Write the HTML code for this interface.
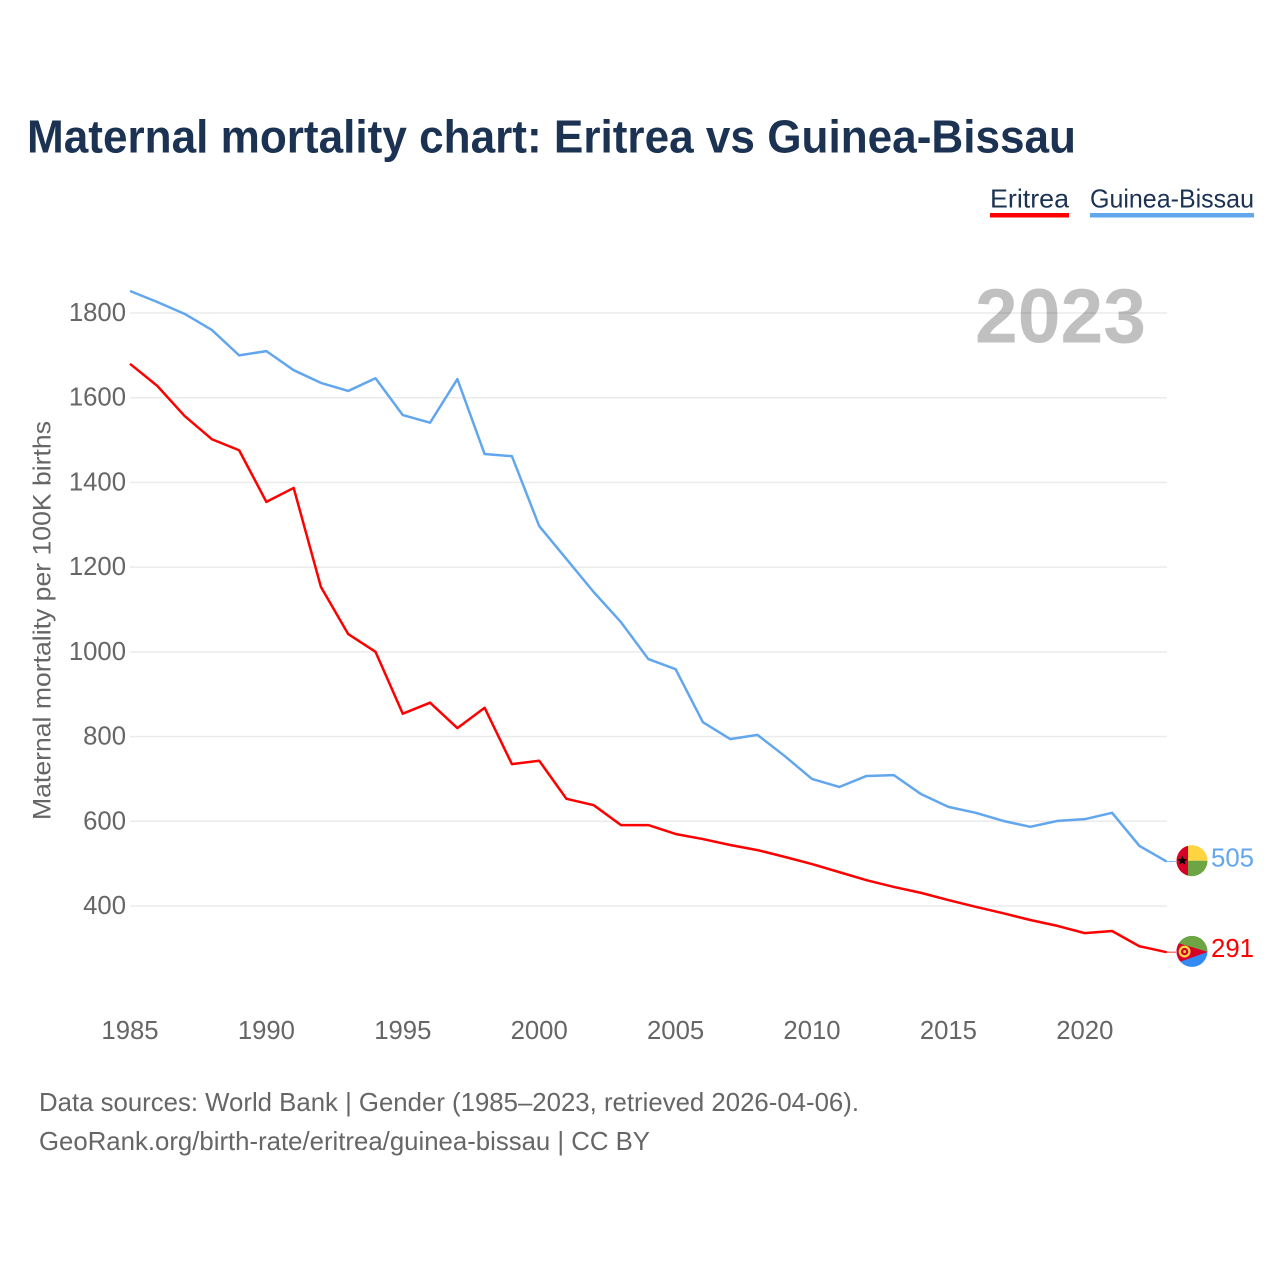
<!DOCTYPE html>
<html lang="en">
<head>
<meta charset="utf-8">
<title>Maternal mortality chart: Eritrea vs Guinea-Bissau</title>
<style>
html,body{margin:0;padding:0;background:#fff;width:1280px;height:1280px;overflow:hidden}
svg{display:block}
text{font-family:"Liberation Sans",sans-serif}
</style>
</head>
<body>
<svg id="chart" xmlns="http://www.w3.org/2000/svg" width="1280" height="1280" viewBox="0 0 1280 1280">
  <defs>
    <clipPath id="flag-clip"><circle cx="0" cy="0" r="15.5"></circle></clipPath>
  </defs>
  <text x="27" y="152.5" font-size="46" font-weight="700" fill="#1b3253" textLength="1049" lengthAdjust="spacingAndGlyphs">Maternal mortality chart: Eritrea vs Guinea-Bissau</text>

  <text x="990" y="207.5" font-size="26" fill="#1b3253" textLength="79" lengthAdjust="spacingAndGlyphs">Eritrea</text>
  <rect x="990" y="213" width="79" height="4.5" fill="#ff0000"></rect>
  <text x="1090" y="207.5" font-size="26" fill="#1b3253" textLength="164" lengthAdjust="spacingAndGlyphs">Guinea-Bissau</text>
  <rect x="1090" y="213" width="164" height="4.5" fill="#62a6ee"></rect>

  <text x="975" y="342.5" font-size="77" font-weight="700" fill="#c0c0c0" textLength="171" lengthAdjust="spacingAndGlyphs">2023</text>

  <g id="grid"></g>
  <g id="y-ticks"></g>
  <g id="x-ticks"></g>
  <text transform="translate(50.5,820) rotate(-90)" font-size="25" fill="#666666" textLength="399" lengthAdjust="spacingAndGlyphs">Maternal mortality per 100K births</text>
  <g id="series"></g>

  <g id="flag-guinea-bissau">
    <g clip-path="url(#flag-clip)">
      <rect x="-16" y="-16" width="32" height="16" fill="#ffd440"></rect>
      <rect x="-16" y="0" width="32" height="16" fill="#6da544"></rect>
      <rect x="-16" y="-16" width="12" height="32" fill="#d80027"></rect>
      <polygon points="-9.7,-5 -8.2,-1.6 -4.7,-1.6 -7.5,0.6 -6.5,4 -9.7,2 -12.9,4 -11.9,0.6 -14.7,-1.6 -11.2,-1.6" fill="#000000"></polygon>
    </g>
  </g>
  <g id="flag-eritrea">
    <g clip-path="url(#flag-clip)">
      <rect x="-16" y="-16" width="32" height="16" fill="#6da544"></rect>
      <rect x="-16" y="0" width="32" height="16" fill="#338af3"></rect>
      <polygon points="-18,-9.5 16,0.5 -18,12.5" fill="#d80027"></polygon>
      <circle cx="-7.4" cy="0.2" r="4.8" fill="none" stroke="#ffda44" stroke-width="2.2"></circle>
      <circle cx="-7.4" cy="0.2" r="1.4" fill="#ffda44"></circle>
    </g>
  </g>
  <g id="end-labels"></g>

  <text x="39" y="1111" font-size="26" fill="#666666" textLength="820" lengthAdjust="spacingAndGlyphs">Data sources: World Bank | Gender (1985–2023, retrieved 2026-04-06).</text>
  <text x="39" y="1150" font-size="26" fill="#666666" textLength="611" lengthAdjust="spacingAndGlyphs">GeoRank.org/birth-rate/eritrea/guinea-bissau | CC BY</text>
</svg>
<script>
const startYear = 1985;
const xTickLabels = [1985, 1990, 1995, 2000, 2005, 2010, 2015, 2020];
const yTickLabels = [400, 600, 800, 1000, 1200, 1400, 1600, 1800];
const eritreaValues = [1680, 1628, 1557, 1502, 1476, 1354, 1387, 1153, 1042, 1000, 854, 880, 820, 868, 735, 743, 653, 638, 591, 591, 570, 558, 544, 532, 516, 499, 480, 461, 445, 431, 414, 398, 383, 367, 353, 336, 341, 305, 291];
const guineaBissauValues = [1852, 1826, 1798, 1760, 1700, 1710, 1665, 1635, 1616, 1646, 1559, 1541, 1644, 1467, 1462, 1297, 1219, 1141, 1070, 983, 959, 834, 794, 804, 754, 700, 681, 707, 709, 664, 634, 620, 601, 587, 601, 605, 620, 542, 505];

const NS = 'http://www.w3.org/2000/svg';
function xScale(year) { return 130 + (year - startYear) * 27.28; }
function yScale(value) { return 906 - (value - 400) * 0.42357; }
function make(tag, attrs, parent) {
  const el = document.createElementNS(NS, tag);
  for (const k in attrs) el.setAttribute(k, attrs[k]);
  parent.appendChild(el);
  return el;
}
const gridG = document.getElementById('grid');
const yG = document.getElementById('y-ticks');
const xG = document.getElementById('x-ticks');
const seriesG = document.getElementById('series');
const endG = document.getElementById('end-labels');

yTickLabels.forEach(function (v) {
  const line = make('line', {x1: 130, x2: 1167, y1: yScale(v), y2: yScale(v), stroke: '#000', 'stroke-opacity': 0.08, 'stroke-width': 1.5}, gridG);
  
  
  const label = make('text', {x: 126, y: yScale(v) + 8, 'text-anchor': 'end', 'font-size': 25.7, fill: '#666666'}, yG);
  
  
  label.textContent = v;
});
xTickLabels.forEach(function (yr) {
  const label = make('text', {x: xScale(yr), y: 1039, 'text-anchor': 'middle', 'font-size': 25.7, fill: '#666666'}, xG);
  
  
  label.textContent = yr;
});
function drawSeries(values, color, flagId) {
  const pts = values.map(function (v, i) { return xScale(startYear + i) + ',' + yScale(v); }).join(' ');
  const line = make('polyline', {points: pts, fill: 'none', stroke: color, 'stroke-width': 2.5, 'stroke-linejoin': 'round'}, seriesG);
  
  
  const last = values[values.length - 1];
  const lastX = xScale(startYear + values.length - 1);
  const ly = yScale(last);
  const conn = make('line', {x1: lastX, x2: 1176, y1: ly, y2: ly, stroke: color, 'stroke-width': 1, 'stroke-opacity': 0.8}, seriesG);
  
  
  document.getElementById(flagId).setAttribute('transform', 'translate(1192,' + (ly - 0.8) + ')');
  const label = make('text', {x: 1211, y: ly + 5, 'font-size': 25.7, fill: color, textLength: 43, lengthAdjust: 'spacingAndGlyphs'}, endG);
  
  
  label.textContent = last;
}
drawSeries(guineaBissauValues, '#62a6ee', 'flag-guinea-bissau');
drawSeries(eritreaValues, '#ff0000', 'flag-eritrea');
</script>
</body>
</html>
